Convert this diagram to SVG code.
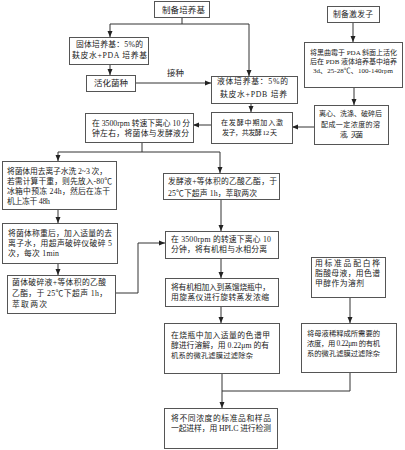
<svg xmlns="http://www.w3.org/2000/svg" width="405" height="450" viewBox="0 0 405 450">
<style>
.bg{fill:#fff}
.box{fill:#fff;stroke:#555;stroke-width:1}
.t{font-family:"Liberation Serif","Noto Sans CJK SC",serif;font-size:7.8px;fill:#222}
.s7{font-size:7px}
.s73{font-size:7.3px}
.s85{font-size:8.5px}
.ln{fill:none;stroke:#333;stroke-width:1}
</style>
<defs>
<marker id="ar" markerUnits="userSpaceOnUse" markerWidth="6" markerHeight="6" viewBox="0 0 6 6" refX="6" refY="3" orient="auto">
<path d="M0,0.5 L6,3 L0,5.5 Z" fill="#222"/>
</marker>
</defs>
<rect class="bg" x="0" y="0" width="405" height="450"/>

<g id="connectors">
<path class="ln" d="M182,17 V24 H110 V37" marker-end="url(#ar)"/>
<path class="ln" d="M182,24 H249 V76" marker-end="url(#ar)"/>
<path class="ln" d="M110,64 V75" marker-end="url(#ar)"/>
<path class="ln" d="M135,83 H211" marker-end="url(#ar)"/>
<path class="ln" d="M353,22 V42" marker-end="url(#ar)"/>
<path class="ln" d="M354,87 V105" marker-end="url(#ar)"/>
<path class="ln" d="M314,127 H292" marker-end="url(#ar)"/>
<path class="ln" d="M251,103 V112" marker-end="url(#ar)"/>
<path class="ln" d="M211,125 H193" marker-end="url(#ar)"/>
<path class="ln" d="M142,142 V152 H58 V161" marker-end="url(#ar)"/>
<path class="ln" d="M142,152 H220 V173" marker-end="url(#ar)"/>
<path class="ln" d="M58,209 V223" marker-end="url(#ar)"/>
<path class="ln" d="M58,263 V275" marker-end="url(#ar)"/>
<path class="ln" d="M115,293 H138 V243 H165" marker-end="url(#ar)"/>
<path class="ln" d="M221,199 V231" marker-end="url(#ar)"/>
<path class="ln" d="M221,258 V278" marker-end="url(#ar)"/>
<path class="ln" d="M221,306 V323" marker-end="url(#ar)"/>
<path class="ln" d="M350,297 V323" marker-end="url(#ar)"/>
<path class="ln" d="M222,373 V408" marker-end="url(#ar)"/>
<path class="ln" d="M350,372 V391 H222"/>
<text class="t s85" x="167" y="76">接种</text>
</g>

<g id="n_medium">
<rect class="box" x="154.5" y="1.5" width="55" height="16"/>
<text class="t s85" x="162" y="12.5" textLength="43">制备培养基</text>
</g>

<g id="n_elicitor">
<rect class="box" x="327.5" y="6.5" width="52" height="16"/>
<text class="t" x="333" y="17" textLength="40">制备激发子</text>
</g>

<g id="n_solid">
<rect class="box" x="69.5" y="37.5" width="79" height="27"/>
<text class="t" x="76" y="47" textLength="67">固体培养基：5%的</text>
<text class="t" x="72" y="57.5" textLength="75">麸皮水+PDA 培养基</text>
</g>

<g id="n_activate">
<rect class="box" x="86.5" y="75.5" width="49" height="16"/>
<text class="t s85" x="94" y="86" textLength="34">活化菌种</text>
</g>

<g id="n_liquid">
<rect class="box" x="211.5" y="76.5" width="86" height="27"/>
<text class="t" x="217" y="84" textLength="71">液体培养基：5%的</text>
<text class="t" x="220" y="97" textLength="67">麸皮水+PDB 培养</text>
</g>

<g id="n_aspergillus">
<rect class="box" x="304.5" y="42.5" width="98" height="45"/>
<text class="t s7" x="310" y="54.6" textLength="87">将黑曲霉于 PDA 斜面上活化</text>
<text class="t s7" x="310" y="63.6" textLength="87">后在 PDB 液体培养基中培养</text>
<text class="t s7" x="313" y="72.6" textLength="80">3d、25-28℃、100-140rpm</text>
</g>

<g id="n_wash">
<rect class="box" x="314.5" y="105.5" width="74" height="39"/>
<text class="t s7" x="319" y="116" textLength="63">离心、洗涤、破碎后</text>
<text class="t s7" x="321" y="127" textLength="59">配成一定浓度的溶</text>
<text class="t s7" x="340" y="137" textLength="23">液，灭菌</text>
</g>

<g id="n_ferment">
<rect class="box" x="211.5" y="112.5" width="81" height="31"/>
<text class="t s7" x="221" y="125" textLength="62">在发酵中期加入激</text>
<text class="t s7" x="222" y="135" textLength="55">发子，共发酵 12 天</text>
</g>

<g id="n_centrifuge1">
<rect class="box" x="85.5" y="113.5" width="108" height="29"/>
<text class="t" x="92" y="126" textLength="98">在 3500rpm 转速下离心 10 分</text>
<text class="t" x="92" y="136" textLength="97">钟左右，将菌体与发酵液分</text>
</g>

<g id="n_mycelium_wash">
<rect class="box" x="2.5" y="161.5" width="114" height="48"/>
<text class="t" x="7" y="174" textLength="100">将菌体用去离子水洗 2~3 次，</text>
<text class="t" x="7" y="184" textLength="105">若需计算干重，则先放入-80℃</text>
<text class="t" x="7" y="194" textLength="103">冰箱中预冻 24h，然后在冻干</text>
<text class="t" x="7" y="204" textLength="43">机上冻干 48h</text>
</g>

<g id="n_broth_extract">
<rect class="box" x="163.5" y="173.5" width="116" height="26"/>
<text class="t" x="168" y="184" textLength="109">发酵液+等体积的乙酸乙酯，于</text>
<text class="t" x="168" y="195.5" textLength="89">25℃下超声 1h，萃取两次</text>
</g>

<g id="n_weigh">
<rect class="box" x="2.5" y="223.5" width="115" height="40"/>
<text class="t" x="8" y="236" textLength="104">将菌体称重后，加入适量的去</text>
<text class="t" x="8" y="246" textLength="104">离子水，用超声破碎仪破碎 5</text>
<text class="t" x="8" y="256" textLength="51">次，每次 1min</text>
</g>

<g id="n_cell_extract">
<rect class="box" x="7.5" y="275.5" width="108" height="38"/>
<text class="t" x="12" y="285" textLength="94">菌体破碎液+等体积的乙酸</text>
<text class="t" x="12" y="296" textLength="95">乙酯，于 25℃下超声 1h，</text>
<text class="t" x="12" y="307" textLength="35">萃取两次</text>
</g>

<g id="n_centrifuge2">
<rect class="box" x="165.5" y="231.5" width="113" height="27"/>
<text class="t" x="171" y="242" textLength="100">在 3500rpm 的转速下离心 10</text>
<text class="t" x="171" y="252" textLength="96">分钟，将有机相与水相分离</text>
</g>

<g id="n_evaporate">
<rect class="box" x="165.5" y="278.5" width="113" height="28"/>
<text class="t" x="171" y="290" textLength="99">将有机相加入到蒸馏烧瓶中，</text>
<text class="t" x="171" y="300" textLength="98">用旋蒸仪进行旋转蒸发浓缩</text>
</g>

<g id="n_standard">
<rect class="box" x="311.5" y="257.5" width="74" height="40"/>
<text class="t" x="315" y="266" textLength="65">用标准品配白桦</text>
<text class="t" x="315" y="276" textLength="65">脂酸母液，用色谱</text>
<text class="t" x="315" y="286" textLength="49">甲醇作为溶剂</text>
</g>

<g id="n_dissolve">
<rect class="box" x="164.5" y="323.5" width="115" height="50"/>
<text class="t" x="171" y="338" textLength="99">在烧瓶中加入适量的色谱甲</text>
<text class="t" x="171" y="348" textLength="98">醇进行溶解，用 0.22μm 的有</text>
<text class="t s73" x="171" y="358" textLength="82">机系的微孔滤膜过滤除杂</text>
</g>

<g id="n_dilute">
<rect class="box" x="301.5" y="323.5" width="95" height="49"/>
<text class="t s73" x="307" y="335.7" textLength="73">将母液稀释成所需要的</text>
<text class="t s73" x="307" y="345.7" textLength="73">浓度，用 0.22μm 的有机</text>
<text class="t s73" x="307" y="355.7" textLength="73">系的微孔滤膜过滤除杂</text>
</g>

<g id="n_hplc">
<rect class="box" x="164.5" y="408.5" width="113" height="40"/>
<text class="t" x="171" y="421" textLength="100">将不同浓度的标准品和样品</text>
<text class="t" x="171" y="431" textLength="100">一起进样，用 HPLC 进行检测</text>
</g>
</svg>
